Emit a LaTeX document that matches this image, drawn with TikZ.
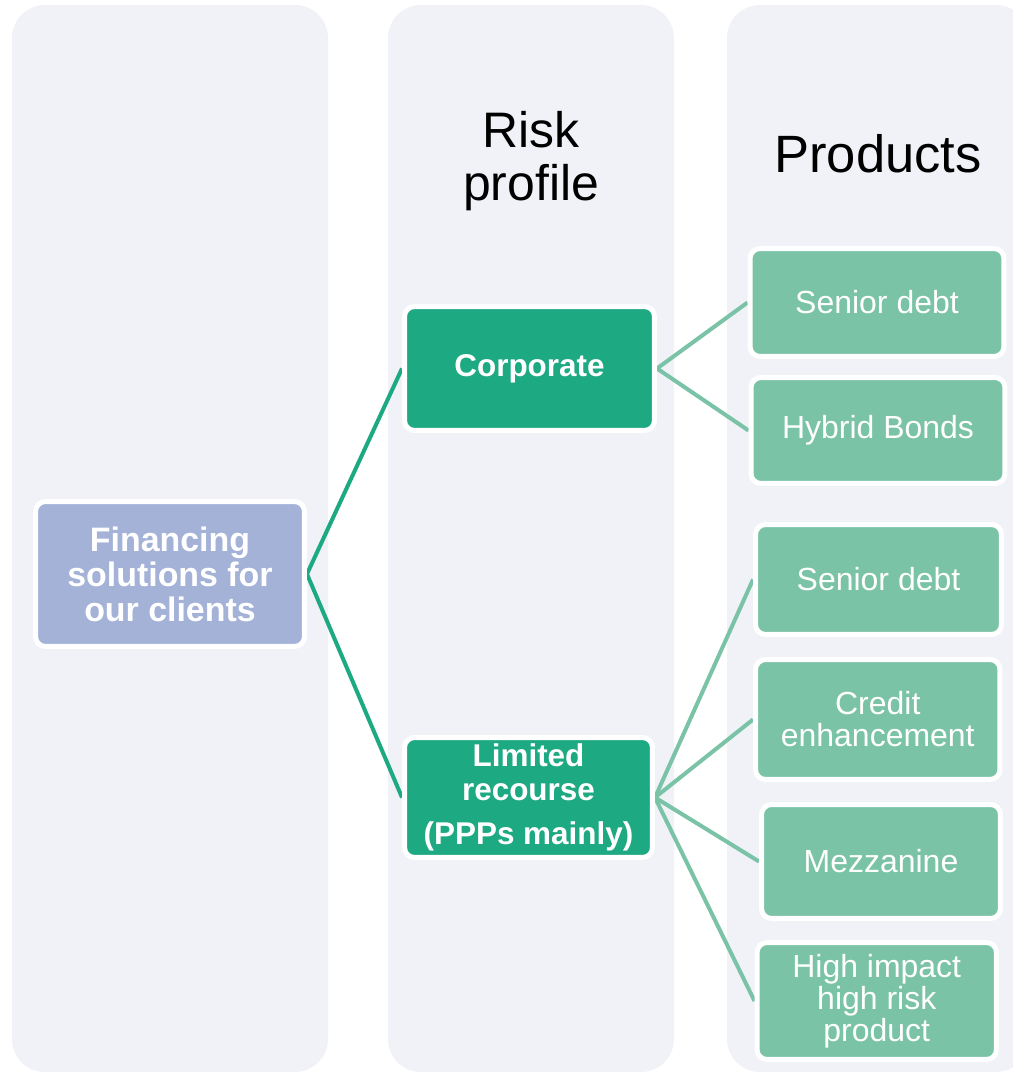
\documentclass[tikz,border=0pt]{standalone}
\usepackage{fontspec}
\setmainfont{Liberation Sans}
\definecolor{colbg}{HTML}{F1F2F8}
\definecolor{finfill}{HTML}{A4B2D8}
\definecolor{corpfill}{HTML}{1DA982}
\definecolor{prodfill}{HTML}{7AC3A6}
\pgfdeclarelayer{cols}
\pgfdeclarelayer{links}
\pgfsetlayers{cols,links,main}
\begin{document}
\begin{tikzpicture}[x=0.02cm,y=-0.02cm,
  box/.style={rectangle, rounded corners=0.2cm, draw=white, line width=2.85pt, text=white, align=center, inner sep=0pt},
  rootbox/.style={box, fill=finfill, font=\bfseries\fontsize{19.3}{19.9}\selectfont},
  lvlbox/.style={box, fill=corpfill, font=\bfseries\fontsize{17.9}{19.3}\selectfont},
  prodbox/.style={box, fill=prodfill, font=\fontsize{18.2}{18.2}\selectfont},
  linkone/.style={draw=corpfill, line width=2.28pt},
  linktwo/.style={draw=prodfill, line width=2.28pt},
  colbox/.style={fill=colbg, rounded corners=0.66cm},
  header/.style={inner sep=0pt, text=black, align=center}]
\path[use as bounding box, clip] (0,0) rectangle (1012,1072);

\begin{pgfonlayer}{cols}
\fill[colbox] (12,5) rectangle (328,1072);
\fill[colbox] (388,5) rectangle (674,1072);
\fill[colbox] (727,5) rectangle (1029,1072);
\end{pgfonlayer}

\node[header, font=\fontsize{28.4}{30.2}\selectfont] (hrisk) at (531,161) {Risk\\profile};
\node[header, font=\fontsize{29.9}{32}\selectfont, anchor=base] (hprod) at (878,172) {Products};

\node[rootbox, minimum width=5.38cm, minimum height=2.90cm] (fin) at (170,574) {Financing\\solutions for\\our clients};
\node[lvlbox, minimum width=5.00cm, minimum height=2.48cm] (corp) at (529.5,368.5) {Corporate};
\node[lvlbox, minimum width=4.96cm, minimum height=2.40cm] (lim) at (528.5,797.5) {Limited\\recourse\\[5.7pt](PPPs mainly)};

\node[prodbox, minimum width=5.08cm, minimum height=2.16cm] (sd1) at (877,302.5) {Senior debt};
\node[prodbox, minimum width=5.08cm, minimum height=2.12cm] (hb) at (878,430.5) {Hybrid Bonds};
\node[prodbox, minimum width=4.92cm, minimum height=2.20cm] (sd2) at (878.5,579.5) {Senior debt};
\node[prodbox, minimum width=4.89cm, minimum height=2.40cm] (ce) at (877.75,719.5) {Credit\\enhancement};
\node[prodbox, minimum width=4.78cm, minimum height=2.28cm] (mz) at (881,861.5) {Mezzanine};
\node[prodbox, minimum width=4.79cm, minimum height=2.34cm] (hi) at (876.75,1001) {High impact\\high risk\\product};

\begin{pgfonlayer}{links}
\draw[linkone] (corp.west) -- (fin.east) -- (lim.west);
\draw[linktwo] (sd1.west) -- (corp.east) -- (hb.west);
\draw[linktwo] (lim.east) -- (sd2.west);
\draw[linktwo] (lim.east) -- (ce.west);
\draw[linktwo] (lim.east) -- (mz.west);
\draw[linktwo] (lim.east) -- (hi.west);
\end{pgfonlayer}
\end{tikzpicture}
\end{document}
